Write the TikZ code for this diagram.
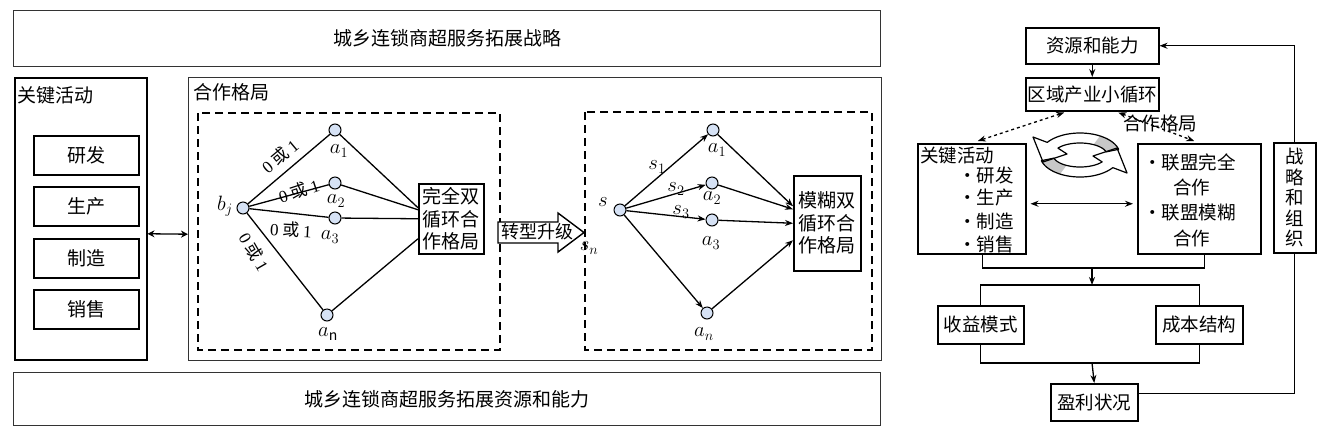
\documentclass[tikz,border=0pt]{standalone}
\usepackage{fontspec}
\setmainfont{Noto Sans CJK SC}
\newfontfamily\serfont{Liberation Serif}
\usetikzlibrary{arrows.meta,calc}
\begin{document}
\begin{tikzpicture}[x=1pt,y=-1pt,
  every node/.style={font=\fontsize{18.5}{22.5}\selectfont},
  bx/.style={draw, line width=1.5pt, inner sep=0pt, anchor=north west, align=center},
  gbx/.style={bx, draw=black!80, line width=1.4pt},
  dbox/.style={draw, line width=2.4pt, dash pattern=on 8pt off 5pt},
  dot/.style={circle, draw, line width=1pt, fill={rgb,255:red,214;green,226;blue,245}, minimum size=12pt, inner sep=0pt},
  ln/.style={line width=1.3pt},
  tip/.style={-{Stealth[length=8pt,width=6pt]}},
  dtip/.style={{Stealth[length=8pt,width=6pt]}-{Stealth[length=8pt,width=6pt]}},
  lab/.style={font=\fontsize{20}{20}\selectfont, inner sep=0pt},
  ed/.style={font=\fontsize{17}{17}\selectfont, inner sep=0pt},
  txt/.style={anchor=west, inner sep=0pt}]
\useasboundingbox (0,0) rectangle (1329,432);

% ---------- left diagram ----------
\node[gbx, minimum width=867pt, minimum height=56pt, font=\fontsize{19}{22}\selectfont] (top) at (13,10) {城乡连锁商超服务拓展战略};
\node[gbx, minimum width=867pt, minimum height=53pt, font=\fontsize{19}{22}\selectfont] (bot) at (13,372) {城乡连锁商超服务拓展资源和能力};

\node[bx, minimum width=132pt, minimum height=282pt] (keyL) at (14,77) {};
\node[txt, font=\fontsize{19}{22}\selectfont] (keyT) at (17,95) {关键活动};
\node[bx, minimum width=105pt, minimum height=39pt, font=\fontsize{19}{22}\selectfont] (yf) at (33,135) {研发};
\node[bx, minimum width=105pt, minimum height=39pt, font=\fontsize{19}{22}\selectfont] (sc) at (33,186) {生产};
\node[bx, minimum width=105pt, minimum height=39pt, font=\fontsize{19}{22}\selectfont] (zz) at (33,238) {制造};
\node[bx, minimum width=105pt, minimum height=39pt, font=\fontsize{19}{22}\selectfont] (xs) at (33,289) {销售};

\node[gbx, minimum width=693pt, minimum height=283pt] (coop) at (188,77) {};
\node[txt, font=\fontsize{19}{22}\selectfont] (coopT) at (193,92) {合作格局};

\draw[dbox] (198,113) rectangle (500,350);
\draw[dbox] (585,112) rectangle (872,350);

\draw[ln, {Stealth[length=7pt,width=7pt]}-{Stealth[length=7pt,width=7pt]}] ($(keyL.east)+(0,15)$) -- ($(coop.west)+(0,15)$);

% first network
\node[dot] (bj) at (243,208) {};
\node[dot] (a1) at (335,130) {};
\node[dot] (a2) at (335,183) {};
\node[dot] (a3) at (335,218) {};
\node[dot] (an) at (327,315) {};
\node[bx, minimum width=65pt, minimum height=70pt, font=\fontsize{19}{22.5}\selectfont] (box1) at (418,183) {完全双\\循环合\\作格局};

\draw[ln] (bj) -- (a1);
\draw[ln] (bj) -- (a2);
\draw[ln] (bj) -- (a3);
\draw[ln] (bj) -- (an);
\draw[ln] (a1) -- ($(box1.west)+(0,-11)$);
\draw[ln] (a2) -- ($(box1.west)+(0,-9)$);
\draw[ln] (a3) -- (box1.west);
\draw[ln] (an) -- ($(box1.west)+(0,20)$);

\node[ed, rotate=40] (e1) at (280,156) {{\serfont 0} 或 {\serfont 1}};
\node[ed, rotate=18] (e2) at (299,191) {{\serfont 0} 或 {\serfont 1}};
\node[ed, rotate=-3] (e3) at (291,230) {{\serfont 0} 或 {\serfont 1}};
\node[ed, rotate=-60] (e4) at (254,252) {{\serfont 0} 或 {\serfont 1}};

\node[lab] (lbj) at (225,206) {$b_j$};
\node[lab] (la1) at (339,151) {$a_1$};
\node[lab] (la2) at (336,201) {$a_2$};
\node[lab] (la3) at (330,237) {$a_3$};
\node[lab] (lan) at (328,334) {$a_{\mathrm{n}}$};

% block arrow
\draw[line width=1.4pt, fill=white] (498,222) -- (558,222) -- (558,213) -- (584,232.5) -- (558,252) -- (558,243) -- (498,243) -- cycle;
\node[font=\fontsize{18}{20}\selectfont, inner sep=0pt] (zx) at (537,232) {转型升级};
\node[lab] (lsn) at (589,248) {$s_n$};

% second network
\node[dot] (s) at (620,210) {};
\node[dot] (b1) at (713,130) {};
\node[dot] (b2) at (712,183) {};
\node[dot] (b3) at (712,220) {};
\node[dot] (bn) at (707,313) {};
\node[bx, minimum width=67pt, minimum height=95pt, font=\fontsize{19}{22.5}\selectfont] (box2) at (793,175) {模糊双\\循环合\\作格局};

\draw[ln, tip] (s) -- (b1);
\draw[ln, tip] (s) -- (b2);
\draw[ln, tip] (s) -- (b3);
\draw[ln, tip] (s) -- (bn);
\draw[ln, tip] (b1) -- ($(box2.west)+(0,-17)$);
\draw[ln, tip] (b2) -- ($(box2.west)+(0,-14)$);
\draw[ln, tip] (b3) -- (box2.west);
\draw[ln, tip] (bn) -- ($(box2.west)+(0,17)$);

\node[lab] (ls) at (603,202) {$s$};
\node[lab] (ls1) at (657,167) {$s_1$};
\node[lab] (ls2) at (676,189) {$s_2$};
\node[lab] (ls3) at (681,212) {$s_3$};
\node[lab] (lb1) at (717,150) {$a_1$};
\node[lab] (lb2) at (712,198) {$a_2$};
\node[lab] (lb3) at (711,243) {$a_3$};
\node[lab] (lbn) at (704,334) {$a_n$};

% ---------- right diagram ----------
\node[bx, minimum width=133pt, minimum height=36pt] (zyn) at (1025,27) {资源和能力};
\node[bx, minimum width=133pt, minimum height=33pt] (qy) at (1025,77) {区域产业小循环};
\node[bx, minimum width=108pt, minimum height=110pt] (gjhd) at (917,143) {};
\node[bx, minimum width=123pt, minimum height=110pt] (hzgj) at (1137,143) {};
\node[bx, minimum width=42pt, minimum height=110pt, font=\fontsize{18.5}{20.5}\selectfont] (zlzz) at (1273,142) {战\\略\\和\\组\\织};
\node[bx, minimum width=86pt, minimum height=38pt] (sy) at (937,305) {收益模式};
\node[bx, minimum width=87pt, minimum height=38pt] (cb) at (1155,305) {成本结构};
\node[bx, minimum width=87pt, minimum height=37pt] (ylzk) at (1050,383) {盈利状况};

\node[txt] (g0) at (920,155) {关键活动};
\node[txt] (g1) at (958,175) {·研发};
\node[txt] (g2) at (958,198) {·生产};
\node[txt] (g3) at (958,221) {·制造};
\node[txt] (g4) at (958,244) {·销售};
\node[txt] (h1) at (1143,162) {·联盟完全};
\node[txt] (h2) at (1173,187) {合作};
\node[txt] (h3) at (1143,213) {·联盟模糊};
\node[txt] (h4) at (1173,238) {合作};
\node[inner sep=0pt] (hzT) at (1160,123) {合作格局};

\draw[ln, tip] (zyn) -- (qy);
\draw[ln, tip] (zlzz.north) |- (zyn.east);
\draw[ln, dtip, dashed] ($(qy.south)+(-28,1)$) -- ($(gjhd.north)+(6,-2)$);
\draw[ln, dtip, dashed] ($(qy.south)+(26,1)$) -- ($(hzgj.north)+(-5,-2)$);
\draw[ln, dtip] ($(gjhd.east)+(4,5)$) -- ($(hzgj.west)+(-4,5)$);

\coordinate (j1) at (1092,268);
\coordinate (j2) at (1092,285);
\coordinate (j3) at (1092,363);
\draw[ln] ($(gjhd.south)+(11,0)$) |- (j1) -| ($(hzgj.south)+(5,0)$);
\draw[ln, tip] (j1) -- (j2);
\draw[ln] (sy.north) |- (j2) -| (cb.north);
\draw[ln] (sy.south) |- (j3) -| (cb.south);
\draw[ln, tip] (j3) -- (ylzk.north);
\draw[ln] ($(ylzk.east)+(0,-9)$) -| (zlzz.south);

% cycle icon
\begin{scope}[shift={(1080,155)}]
\def\toppiece{plot[domain=-15:-145, samples=40] ({40*cos(\x)},{22*sin(\x)})
  -- (-47,-18) -- (-37,7) -- (-13,-1)
  -- plot[domain=-145:-15, samples=40] ({27*cos(\x)},{12*sin(\x)}) -- cycle}
\def\botpiece{plot[domain=165:35, samples=40] ({40*cos(\x)},{22*sin(\x)})
  -- (47,18) -- (37,-7) -- (13,1)
  -- plot[domain=35:165, samples=40] ({27*cos(\x)},{12*sin(\x)}) -- cycle}
\fill[white] \toppiece;
\fill[white] \botpiece;
\fill[black!22] plot[domain=-15:-60, samples=20] ({40*cos(\x)},{22*sin(\x)})
  -- plot[domain=-60:-15, samples=20] ({27*cos(\x)},{12*sin(\x)}) -- cycle;
\fill[black!22] plot[domain=165:120, samples=20] ({40*cos(\x)},{22*sin(\x)})
  -- plot[domain=120:165, samples=20] ({27*cos(\x)},{12*sin(\x)}) -- cycle;
\draw[line width=1.2pt, line join=round] \toppiece;
\draw[line width=1.2pt, line join=round] \botpiece;
\end{scope}
\end{tikzpicture}
\end{document}
